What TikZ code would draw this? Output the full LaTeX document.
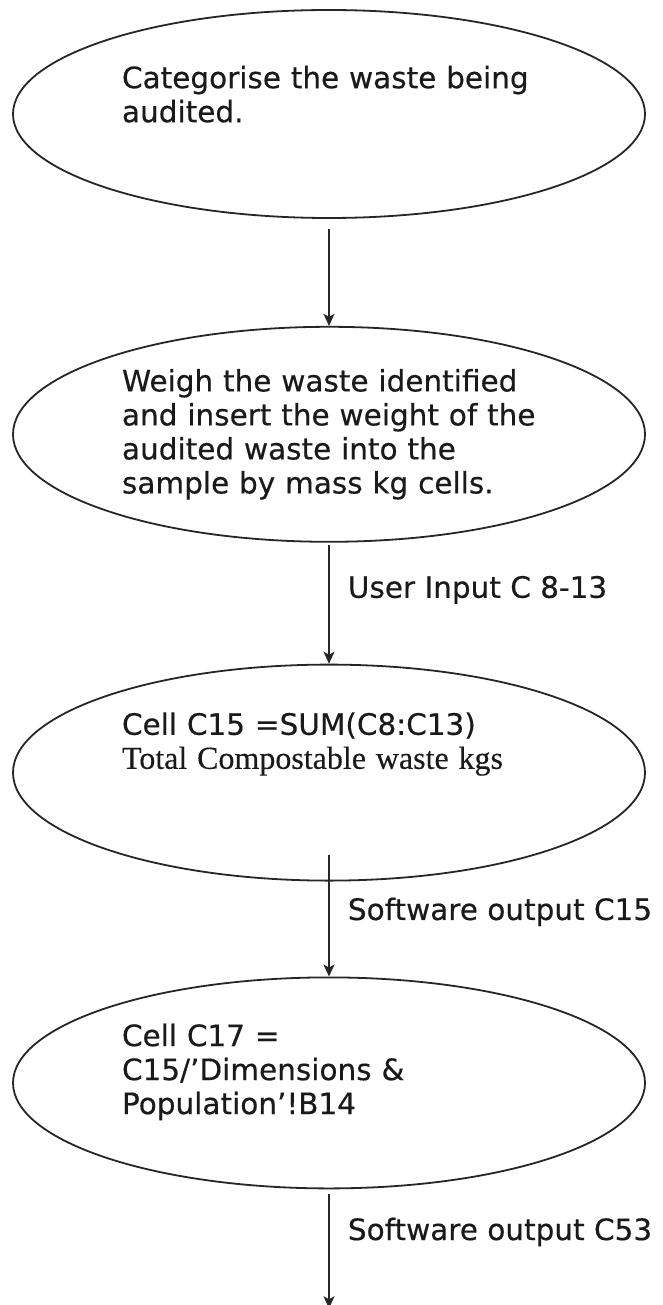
\documentclass[tikz,border=0pt]{standalone}
\usepackage{fontspec}
\usetikzlibrary{arrows.meta, positioning, shapes.geometric}
\newfontfamily\bubbleSans[FakeBold=0.4]{DejaVu Sans}
\newfontfamily\bubbleSerif[FakeBold=0.3]{Liberation Serif}
\definecolor{cLine}{HTML}{262626}
\definecolor{cText}{HTML}{1A1A1A}
\tikzset{
  bubble/.style={ellipse, draw=cLine, line width=1.8pt, minimum width=632pt,
    inner sep=0pt, text width=414pt, align=left, text=cText,
    font=\bubbleSans\fontsize{29.5}{34}\selectfont},
  flow/.style={-{Stealth[length=12pt, width=11pt, inset=3pt]}, line width=1.8pt, draw=cLine},
  flowlabel/.style={anchor=west, inner sep=0pt, xshift=18pt, text=cText,
    font=\bubbleSans\fontsize{29.5}{34}\selectfont},
}

\begin{document}
\begin{tikzpicture}

  \useasboundingbox (0,0) rectangle (662pt,-1305pt);

  % ----------------------------------------------------------------
  % Steps of the audit, top to bottom
  % ----------------------------------------------------------------
  \node[bubble, minimum height=208pt] (categorise) at (329pt,-114pt)
    {Categorise the waste being\\ audited.\\[6pt]\mbox{}};

  \node[bubble, minimum height=215pt, below=107pt of categorise] (weigh)
    {Weigh the waste identified\\ and insert the weight of the\\ audited waste into the\\ sample by mass kg cells.};

  \node[bubble, minimum height=216pt, below=121pt of weigh] (sumcell)
    {Cell C15 =SUM(C8:C13)\\ {\bubbleSerif\fontsize{32}{34}\selectfont Total Compostable waste kgs}\\[30pt]\mbox{}};

  \node[bubble, minimum height=211pt, below=95pt of sumcell] (divcell)
    {Cell C17 =\\ C15/’Dimensions \&\\ Population’!B14\\[-6pt]\mbox{}};

  \coordinate[below=119pt of divcell.south] (flowend);

  % ----------------------------------------------------------------
  % Connectors with the cell annotations
  % ----------------------------------------------------------------
  \draw[flow] ([yshift=-10pt]categorise.south) -- (weigh.north);
  \draw[flow] ([yshift=-2pt]weigh.south) -- (sumcell.north)
    node[flowlabel, pos=0.38] (userinput) {User Input C 8-13};
  \draw[flow] ([yshift=27pt]sumcell.south) -- (divcell.north)
    node[flowlabel, pos=0.47] (outc15) {Software output C15};
  \draw[flow] ([yshift=-5pt]divcell.south) -- (flowend)
    node[flowlabel, pos=0.33] (outc53) {Software output C53};

\end{tikzpicture}
\end{document}
